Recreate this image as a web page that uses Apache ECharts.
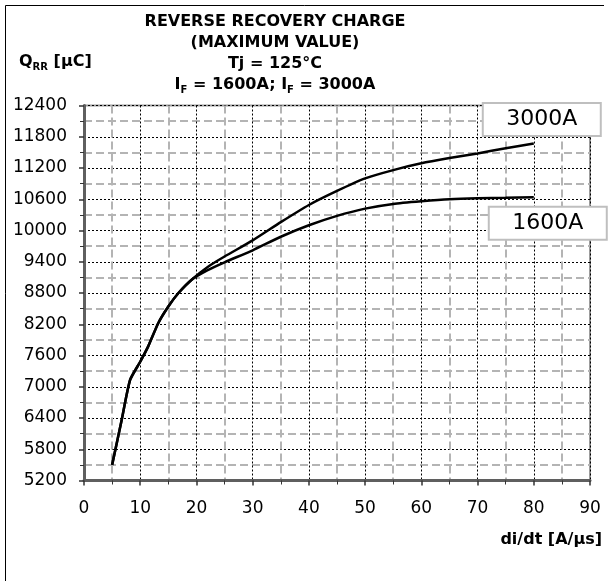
<!DOCTYPE html>
<html>
<head>
<meta charset="utf-8">
<script src="https://cdn.jsdelivr.net/npm/echarts@6/dist/echarts.min.js"></script>
<style>
  html, body { margin: 0; padding: 0; background: #fff; }
  #main { width: 611px; height: 581px; }
</style>
</head>
<body>
<div id="main"></div>
<script>
// di/dt [A/us] and QRR [uC]
var didt = [5, 6.7, 8.2, 10, 11.4, 13.2, 15, 16.8, 19.2, 22, 25, 30, 35, 40, 45, 50, 55, 60, 65, 70, 75, 80];
var qrr3000 = [5500, 6360, 7130, 7480, 7770, 8220, 8540, 8800, 9060, 9300, 9500, 9810, 10160, 10490, 10760, 11000, 11160, 11290, 11390, 11480, 11580, 11670];
var qrr1600 = [5500, 6360, 7130, 7480, 7770, 8220, 8540, 8800, 9060, 9240, 9390, 9620, 9880, 10100, 10280, 10420, 10510, 10560, 10600, 10620, 10630, 10640];
var seriesNames = ['3000A', '1600A'];
var xRange = [0, 90, 10];
var yRange = [5200, 12400, 600];

function pairs(ys) {
    return didt.map(function (x, i) { return [x, ys[i]]; });
}

var font = 'DejaVu Sans';
var myChart = echarts.init(document.getElementById('main'), null, { renderer: 'canvas' });

function axisCommon(r, gap) {
    return {
        type: 'value',
        min: r[0], max: r[1], interval: r[2],
        axisLine: { show: true, onZero: false, lineStyle: { color: '#5f5f5f', width: 3 } },
        axisTick: { show: true, length: 5, lineStyle: { color: '#333', width: 1.5 } },
        minorTick: { show: true, splitNumber: 2, length: 4, lineStyle: { color: '#333', width: 1 } },
        splitLine: { show: true, lineStyle: { color: '#000', width: 1, type: [2, 2] } },
        minorSplitLine: { show: true, lineStyle: { color: '#b4b4b4', width: 2, type: [8, 4] } },
        axisLabel: {
            color: '#000', fontFamily: font, fontSize: 17, margin: gap,
            formatter: function (v) { return String(v); }
        }
    };
}

// label boxes at the end of each curve
function endBox(name, ys, offset) {
    return {
        symbol: 'rect', symbolSize: 0, silent: true,
        data: [{ coord: [didt[didt.length - 1], ys[ys.length - 1]] }],
        label: {
            show: true, position: 'inside', offset: offset,
            formatter: name,
            color: '#000', fontFamily: font, fontSize: 22,
            backgroundColor: '#fff', borderColor: '#bfbfbf', borderWidth: 2,
            width: 116, height: 31, lineHeight: 31, align: 'center', verticalAlign: 'middle'
        }
    };
}

var option = {
    animation: false,
    backgroundColor: '#fff',
    grid: {
        left: 84, right: 21, top: 105.5, bottom: 100.5,
        show: true, borderColor: '#9c9c9c', borderWidth: 2, backgroundColor: 'transparent'
    },
    xAxis: axisCommon(xRange, 20),
    yAxis: axisCommon(yRange, 17),
    series: [
        {
            name: seriesNames[0], type: 'line', data: pairs(qrr3000),
            symbol: 'none', smooth: 0.2,
            lineStyle: { color: '#000', width: 2.5 },
            markPoint: endBox(seriesNames[0], qrr3000, [8, -24])
        },
        {
            name: seriesNames[1], type: 'line', data: pairs(qrr1600),
            symbol: 'none', smooth: 0.2,
            lineStyle: { color: '#000', width: 2.5 },
            markPoint: endBox(seriesNames[1], qrr1600, [14, 26])
        }
    ],
    graphic: [
        {
            type: 'polyline', silent: true,
            shape: { points: [[5.5, 581], [5.5, 5.5], [604, 5.5]] },
            style: { stroke: '#000', lineWidth: 1, fill: null }
        },
        {
            type: 'text', x: 275, y: 11, silent: true,
            style: {
                text: 'REVERSE RECOVERY CHARGE\n(MAXIMUM VALUE)\nTj = 125°C\n{b|I}{s|F}{b| = 1600A; I}{s|F}{b| = 3000A}',
                align: 'center', verticalAlign: 'top',
                fontFamily: font, fontWeight: 'bold', fontSize: 16, lineHeight: 21, fill: '#000',
                rich: {
                    b: { fontFamily: font, fontWeight: 'bold', fontSize: 16, lineHeight: 21 },
                    s: { fontFamily: font, fontWeight: 'bold', fontSize: 10, lineHeight: 10, verticalAlign: 'bottom' }
                }
            }
        },
        {
            type: 'text', x: 19, y: 51, silent: true,
            style: {
                text: '{b|Q}{s|RR}{b| [μC]}',
                align: 'left', verticalAlign: 'top', fill: '#000',
                rich: {
                    b: { fontFamily: font, fontWeight: 'bold', fontSize: 16, lineHeight: 21 },
                    s: { fontFamily: font, fontWeight: 'bold', fontSize: 10, lineHeight: 10, verticalAlign: 'bottom' }
                }
            }
        },
        {
            type: 'text', x: 602, y: 540, silent: true,
            style: {
                text: 'di/dt [A/μs]',
                align: 'right', verticalAlign: 'middle', fill: '#000',
                fontFamily: font, fontWeight: 'bold', fontSize: 16
            }
        }
    ]
};

myChart.setOption(option);
</script>
</body>
</html>
